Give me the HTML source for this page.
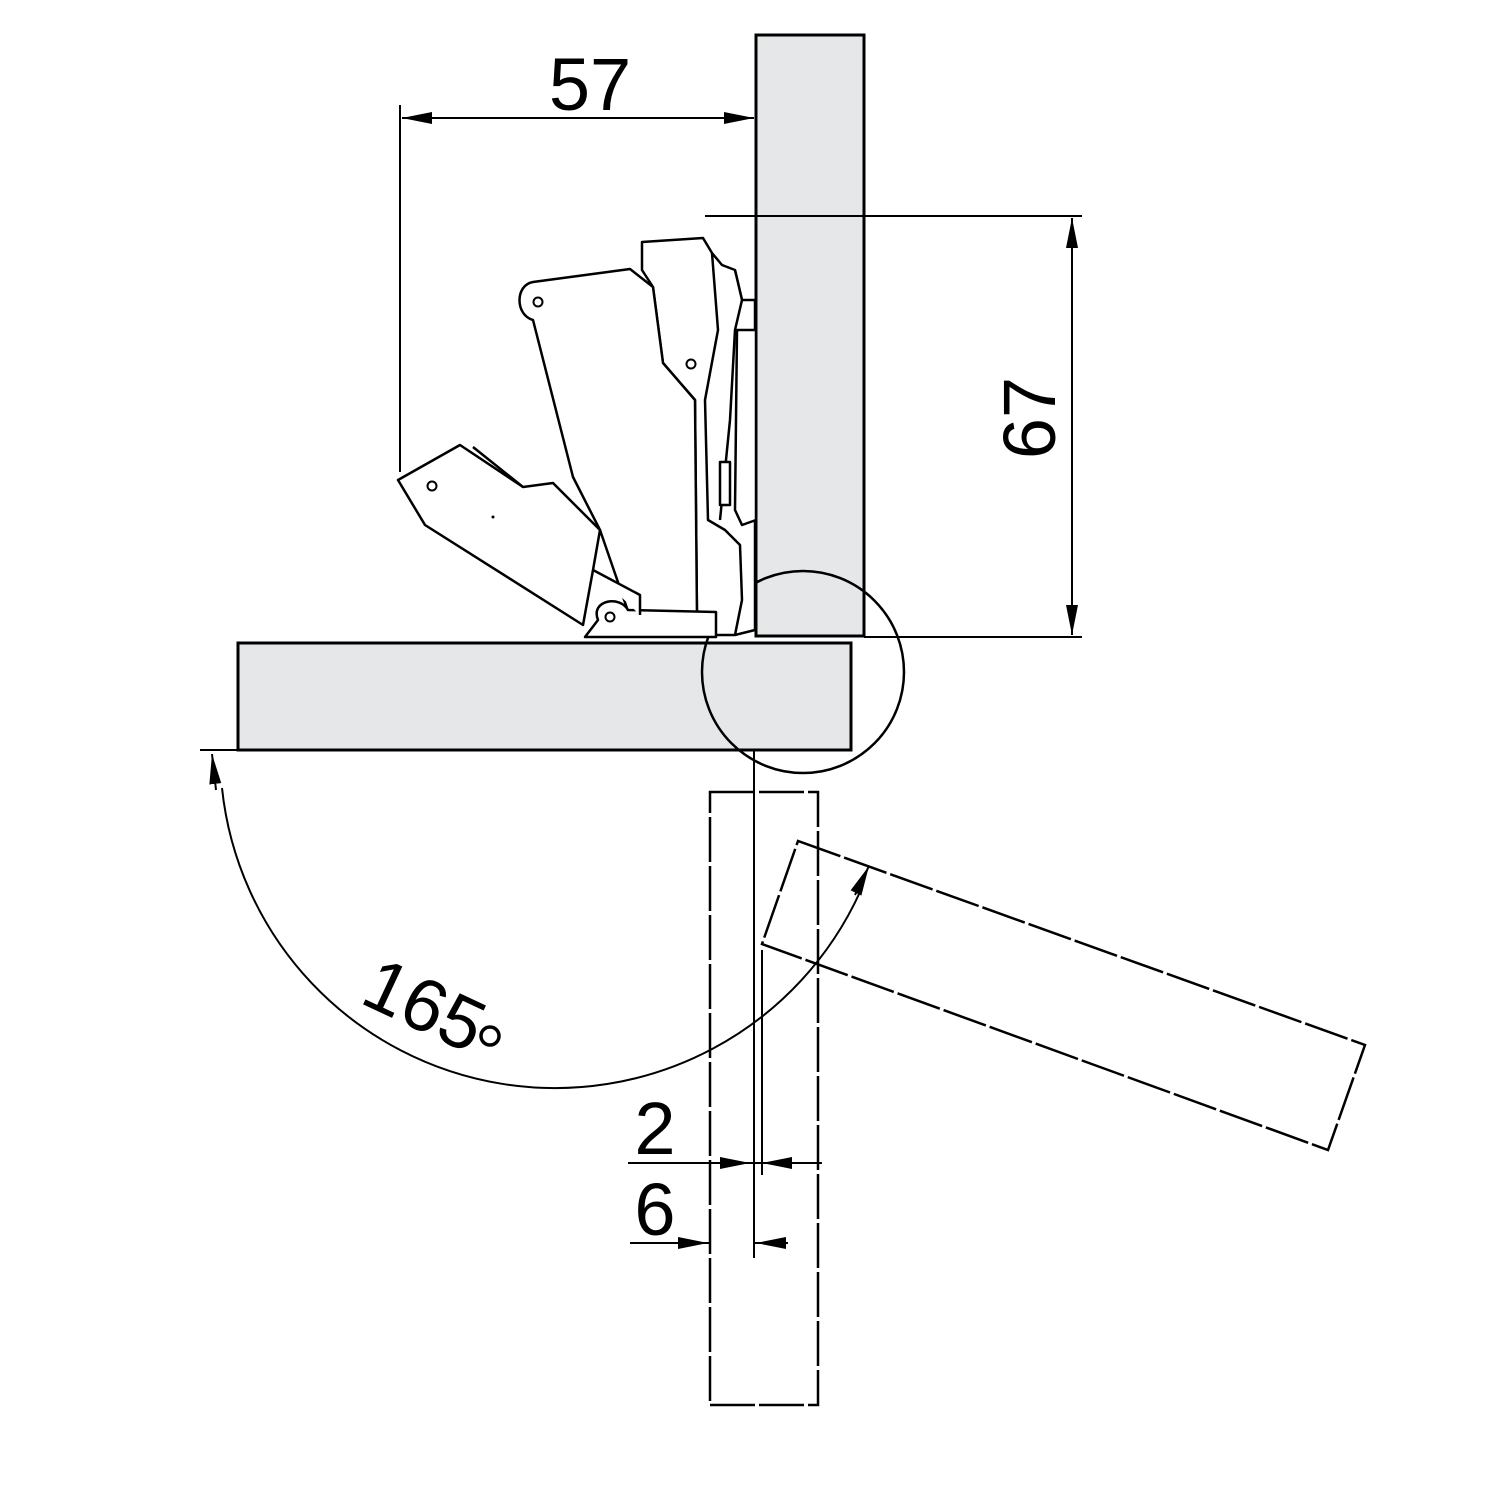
<!DOCTYPE html>
<html><head><style>html,body{margin:0;padding:0;background:#fff}svg{display:block}</style></head>
<body>
<svg width="1500" height="1500" viewBox="0 0 1500 1500" xmlns="http://www.w3.org/2000/svg" font-family="'Liberation Sans', 'DejaVu Sans', sans-serif">
<defs>
<marker id="a" viewBox="0 0 30 14" refX="30" refY="7" markerWidth="30" markerHeight="16" markerUnits="userSpaceOnUse" orient="auto"><path d="M0,1 L30,7 L0,13 Z" fill="#000"/></marker>
</defs>
<rect x="756" y="35" width="108" height="601" fill="#e6e7e8" stroke="#000" stroke-width="3"/>
<rect x="238" y="643" width="613" height="107" fill="#e6e7e8" stroke="#000" stroke-width="3"/>
<circle cx="803" cy="672" r="101" fill="none" stroke="#000" stroke-width="2.5"/>
<g stroke="#000" stroke-width="2" fill="none">
<line x1="400" y1="105" x2="400" y2="472"/>
<line x1="402" y1="118" x2="754" y2="118"/>
<line x1="705" y1="216" x2="1082" y2="216"/>
<line x1="864" y1="637" x2="1082" y2="637"/>
<line x1="1072" y1="218" x2="1072" y2="635"/>
<line x1="200" y1="750" x2="238" y2="750"/>
<line x1="754" y1="750" x2="754" y2="1258"/>
<line x1="762" y1="950" x2="762" y2="1175"/>
<line x1="628" y1="1163" x2="822" y2="1163"/>
<line x1="630" y1="1243" x2="710" y2="1243"/>
<line x1="754" y1="1243" x2="788" y2="1243"/>
</g>
<g stroke="#000" stroke-width="2" fill="none">
<line x1="430" y1="118" x2="402" y2="118" marker-end="url(#a)"/>
<line x1="724" y1="118" x2="754" y2="118" marker-end="url(#a)"/>
<line x1="1072" y1="250" x2="1072" y2="218" marker-end="url(#a)"/>
<line x1="1072" y1="605" x2="1072" y2="635" marker-end="url(#a)"/>
<line x1="720" y1="1163" x2="750" y2="1163" marker-end="url(#a)"/>
<line x1="792" y1="1163" x2="762" y2="1163" marker-end="url(#a)"/>
<line x1="678" y1="1243" x2="708" y2="1243" marker-end="url(#a)"/>
<line x1="786" y1="1243" x2="756" y2="1243" marker-end="url(#a)"/>
<path d="M222,788 A335,335 0 0 0 860,892"/>
<line x1="216" y1="790" x2="212" y2="754" marker-end="url(#a)"/>
<line x1="855" y1="895" x2="869" y2="866" marker-end="url(#a)"/>
</g>
<g stroke="#000" stroke-width="2.5" fill="none" stroke-dasharray="45 4">
<rect x="710" y="792" width="108" height="613"/>
<path d="M798,841 L1365,1045 L1328,1150 L762,944 Z"/>
</g>
<g stroke="#000" stroke-width="2.5" fill="#fff" stroke-linejoin="round">
<path d="M642,242 L703,238 L712,253 L722,265 L735,270 L742,300 L755,300 L755,630 L735,635 L700,635 L697,617 L695,400 L663,363 L653,287 L642,270 Z"/>
<path d="M712,253 L718,330 L705,400 L708,520 L725,530 L740,545 L742,600 L735,635"/>
<path d="M735,270 L742,300 L735,330 L730,420 L720,520"/>
<path d="M737,330 L756,330 L756,520 L742,525 L735,510 Z"/>
<path d="M720,462 L730,462 L730,505 L720,505 Z"/>
<path d="M533,320 C515,315 515,285 533,282 L630,269 L653,287 L663,363 L695,400 L697,617 L630,617 L600,530 L573,477 Z"/>
<path d="M398,480 L460,445 L523,487 L553,483 L600,530 L593,570 L583,625 L425,525 Z"/>
<path d="M473,447 L523,487"/>
<path d="M598,620 C590,600 620,595 628,610 L716,612 L716,637 L585,637 Z"/>
<path d="M593,570 L640,595 L640,615"/>
</g>
<g fill="#fff" stroke="#000" stroke-width="2">
<circle cx="538" cy="302" r="4.5"/><circle cx="691" cy="364" r="4.5"/><circle cx="432" cy="486" r="4.5"/><circle cx="610" cy="617" r="4.5"/>
</g>
<circle cx="493" cy="517" r="1.5" fill="#000"/>
<g font-size="74" fill="#000">
<text x="590" y="110" text-anchor="middle">57</text>
<text transform="translate(1055,418) rotate(-90)" text-anchor="middle">67</text>
<text transform="translate(358,1002) rotate(25)">165</text>
<text x="655" y="1154" text-anchor="middle">2</text>
<text x="655" y="1235" text-anchor="middle">6</text>
</g>
<circle cx="490" cy="1036" r="9" fill="none" stroke="#000" stroke-width="3.5"/>
</svg>
</body></html>
